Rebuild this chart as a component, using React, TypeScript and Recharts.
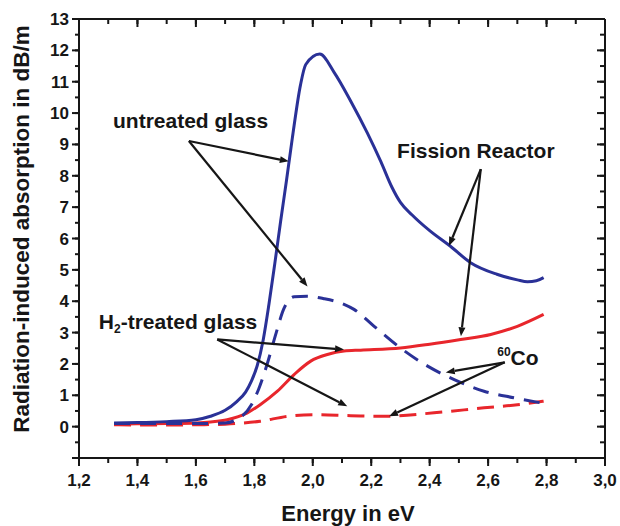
import { LineChart, Line, XAxis, YAxis, ReferenceLine, ReferenceDot } from 'recharts';

// Fission reactor, untreated glass (blue solid)
const fissionUntreatedE = [1.32, 1.4, 1.5, 1.6, 1.65, 1.7, 1.74, 1.77, 1.79, 1.81, 1.83, 1.85, 1.87, 1.89, 1.91, 1.93, 1.958, 1.976, 2.024, 2.073, 2.13, 2.187, 2.233, 2.27, 2.3, 2.34, 2.4, 2.47, 2.54, 2.63, 2.7, 2.735, 2.765, 2.79];
const fissionUntreatedV = [0.12, 0.13, 0.16, 0.22, 0.33, 0.52, 0.8, 1.1, 1.45, 1.95, 2.75, 3.9, 5.2, 6.55, 7.85, 9.2, 10.9, 11.55, 11.88, 11.3, 10.38, 9.36, 8.45, 7.65, 7.15, 6.75, 6.25, 5.76, 5.23, 4.86, 4.68, 4.62, 4.65, 4.75];

// 60Co, untreated glass (blue dashed)
const cobaltUntreatedE = [1.32, 1.4, 1.5, 1.6, 1.7, 1.76, 1.79, 1.815, 1.845, 1.875, 1.9, 1.936, 1.98, 2.038, 2.107, 2.141, 2.21, 2.3, 2.393, 2.484, 2.586, 2.689, 2.78];
const cobaltUntreatedV = [0.1, 0.1, 0.1, 0.1, 0.12, 0.35, 0.7, 1.2, 2.03, 3.0, 3.74, 4.14, 4.16, 4.08, 3.9, 3.74, 3.2, 2.51, 1.93, 1.5, 1.13, 0.92, 0.76];

// Fission reactor, H2-treated glass (red solid)
const fissionH2E = [1.32, 1.4, 1.5, 1.6, 1.65, 1.707, 1.776, 1.82, 1.879, 1.936, 1.993, 2.05, 2.107, 2.164, 2.3, 2.4, 2.506, 2.609, 2.7, 2.79];
const fissionH2V = [0.08, 0.09, 0.1, 0.12, 0.15, 0.22, 0.44, 0.7, 1.13, 1.66, 2.09, 2.3, 2.41, 2.44, 2.51, 2.63, 2.78, 2.94, 3.2, 3.58];

// 60Co, H2-treated glass (red dashed)
const cobaltH2E = [1.32, 1.4, 1.5, 1.6, 1.7, 1.74, 1.82, 1.913, 2.004, 2.13, 2.244, 2.415, 2.586, 2.7, 2.79];
const cobaltH2V = [0.06, 0.05, 0.05, 0.06, 0.08, 0.1, 0.17, 0.33, 0.38, 0.35, 0.33, 0.44, 0.6, 0.7, 0.81];

const xTicks = [1.2, 1.3, 1.4, 1.5, 1.6, 1.7, 1.8, 1.9, 2.0, 2.1, 2.2, 2.3, 2.4, 2.5, 2.6, 2.7, 2.8, 2.9, 3.0];
const xLabels = ['1,2', '', '1,4', '', '1,6', '', '1,8', '', '2,0', '', '2,2', '', '2,4', '', '2,6', '', '2,8', '', '3,0'];
const yTicks = [-1, -0.5, 0, 0.5, 1, 1.5, 2, 2.5, 3, 3.5, 4, 4.5, 5, 5.5, 6, 6.5, 7, 7.5, 8, 8.5, 9, 9.5, 10, 10.5, 11, 11.5, 12, 12.5, 13];
const yLabels = ['', '', '0', '', '1', '', '2', '', '3', '', '4', '', '5', '', '6', '', '7', '', '8', '', '9', '', '10', '', '11', '', '12', '', '13'];

// annotation arrows: [fromE, fromV, toE, toV]
const arrows = [
  [1.576, 9.11, 1.918, 8.46],
  [1.576, 9.11, 1.982, 4.47],
  [2.575, 8.21, 2.466, 5.76],
  [2.575, 8.21, 2.507, 2.88],
  [1.673, 2.78, 2.107, 2.46],
  [1.673, 2.78, 2.118, 0.65],
  [2.657, 2.05, 2.455, 1.73],
  [2.657, 2.05, 2.261, 0.33],
];

const toRows = (e: number[], v: number[]) => e.map((x, i) => ({ e: x, v: v[i] }));

const BLUE = '#2a3197';
const RED = '#e8262c';
const INK = '#161616';
const FONT = '"Liberation Sans", Arial, sans-serif';

const tickText = { fontFamily: FONT, fontWeight: 700, fontSize: 17, fill: INK };
const axisLine = { stroke: INK, strokeWidth: 2 };
const tickLine = { stroke: INK, strokeWidth: 2 };

const isMajorX = (i: number) => xLabels[i] !== '';
const isMajorY = (i: number) => Number.isInteger(yTicks[i]);

// native tick lines are the short (minor) length; majors get an extra path
function BottomTick(p: any) {
  const major = isMajorX(p.index);
  return (
    <g>
      {major && <path d={`M${p.x},${p.y - 5}V${p.y + 3}`} stroke={INK} strokeWidth={2} fill="none" />}
      {major && (
        <text x={p.x} y={p.y + 23} textAnchor="middle" {...tickText}>
          {xLabels[p.index]}
        </text>
      )}
    </g>
  );
}

function TopTick(p: any) {
  const major = isMajorX(p.index);
  return <g>{major && <path d={`M${p.x},${p.y - 5}V${p.y + 3}`} stroke={INK} strokeWidth={2} fill="none" />}</g>;
}

function LeftTick(p: any) {
  const major = isMajorY(p.index);
  return (
    <g>
      {major && <path d={`M${p.x - 3},${p.y}H${p.x + 4}`} stroke={INK} strokeWidth={2} fill="none" />}
      {yLabels[p.index] && (
        <text x={p.x - 6} y={p.y + 6} textAnchor="end" {...tickText}>
          {yLabels[p.index]}
        </text>
      )}
    </g>
  );
}

function RightTick(p: any) {
  const major = isMajorY(p.index);
  return <g>{major && <path d={`M${p.x - 3},${p.y}H${p.x + 5}`} stroke={INK} strokeWidth={2} fill="none" />}</g>;
}

function arrowShape(p: any) {
  const { x1, y1, x2, y2 } = p;
  const a = Math.atan2(y2 - y1, x2 - x1);
  const L = 9;
  const W = 3.5;
  const bx = x2 - L * Math.cos(a);
  const by = y2 - L * Math.sin(a);
  const pts = `${x2},${y2} ${bx - W * Math.sin(a)},${by + W * Math.cos(a)} ${bx + W * Math.sin(a)},${by - W * Math.cos(a)}`;
  return (
    <g>
      <line x1={x1} y1={y1} x2={bx} y2={by} stroke={INK} strokeWidth={2.2} />
      <polygon points={pts} fill={INK} />
    </g>
  );
}

const noteStyle = { fontFamily: FONT, fontWeight: 700, fontSize: 21, fill: INK };

export default function App() {
  return (
    <div style={{ position: 'absolute', left: 0, top: 0, background: '#fff' }}>
      <LineChart width={620} height={526} margin={{ top: 19, right: 15, bottom: 0, left: 0 }}>
        <XAxis
          dataKey="e"
          type="number"
          domain={[1.2, 3.0]}
          ticks={xTicks}
          interval={0}
          allowDataOverflow
          height={68}
          tickSize={5}
          tickMargin={0}
          tickLine={tickLine}
          tick={BottomTick}
          axisLine={axisLine}
          label={() => (
            <text x={348} y={521} textAnchor="middle" fontFamily={FONT} fontWeight={700} fontSize={22} fill={INK}>
              Energy in eV
            </text>
          )}
        />
        <XAxis
          xAxisId="top"
          orientation="top"
          mirror
          dataKey="e"
          type="number"
          domain={[1.2, 3.0]}
          ticks={xTicks}
          interval={0}
          allowDataOverflow
          height={1}
          tickSize={5}
          tickMargin={0}
          tickLine={tickLine}
          tick={TopTick}
          axisLine={axisLine}
        />
        <YAxis
          type="number"
          domain={[-1, 13]}
          ticks={yTicks}
          interval={0}
          allowDataOverflow
          width={79}
          tickSize={4}
          tickMargin={0}
          tickLine={tickLine}
          tick={LeftTick}
          axisLine={axisLine}
          label={() => (
            <text
              transform="translate(29,229) rotate(-90)"
              textAnchor="middle"
              fontFamily={FONT}
              fontWeight={700}
              fontSize={22.5}
              fill={INK}
            >
              Radiation-induced absorption in dB/m
            </text>
          )}
        />
        <YAxis
          yAxisId="right"
          orientation="right"
          mirror
          type="number"
          domain={[-1, 13]}
          ticks={yTicks}
          interval={0}
          allowDataOverflow
          width={1}
          tickSize={5}
          tickMargin={0}
          tickLine={tickLine}
          tick={RightTick}
          axisLine={axisLine}
        />

        <Line data={toRows(cobaltH2E, cobaltH2V)} dataKey="v" type="monotone" stroke={RED} strokeWidth={3} strokeDasharray="17 9" dot={false} activeDot={false} isAnimationActive={false} />
        <Line data={toRows(fissionH2E, fissionH2V)} dataKey="v" type="monotone" stroke={RED} strokeWidth={3} dot={false} activeDot={false} isAnimationActive={false} />
        <Line data={toRows(cobaltUntreatedE, cobaltUntreatedV)} dataKey="v" type="monotone" stroke={BLUE} strokeWidth={3} strokeDasharray="16 10" dot={false} activeDot={false} isAnimationActive={false} />
        <Line data={toRows(fissionUntreatedE, fissionUntreatedV)} dataKey="v" type="monotone" stroke={BLUE} strokeWidth={3} dot={false} activeDot={false} isAnimationActive={false} />

        {arrows.map((a, i) => (
          <ReferenceLine
            key={i}
            segment={[{ x: a[0], y: a[1] }, { x: a[2], y: a[3] }]}
            stroke={INK}
            ifOverflow="visible"
            shape={arrowShape}
          />
        ))}

        <ReferenceDot
          x={1.582}
          y={9.74}
          r={0}
          ifOverflow="visible"
          shape={(p: any) => (
            <text x={p.cx} y={p.cy + 7} textAnchor="middle" {...noteStyle}>untreated glass</text>
          )}
        />
        <ReferenceDot
          x={2.558}
          y={8.79}
          r={0}
          ifOverflow="visible"
          shape={(p: any) => (
            <text x={p.cx} y={p.cy + 7} textAnchor="middle" {...noteStyle}>Fission Reactor</text>
          )}
        />
        <ReferenceDot
          x={1.539}
          y={3.35}
          r={0}
          ifOverflow="visible"
          shape={(p: any) => (
            <text x={p.cx} y={p.cy + 7} textAnchor="middle" {...noteStyle}>
              H<tspan fontSize={12} dy={4}>2</tspan><tspan dy={-4}>-treated glass</tspan>
            </text>
          )}
        />
        <ReferenceDot
          x={2.702}
          y={2.2}
          r={0}
          ifOverflow="visible"
          shape={(p: any) => (
            <text x={p.cx} y={p.cy + 7} textAnchor="middle" {...noteStyle}>
              <tspan fontSize={12} dy={-9}>60</tspan><tspan dy={9}>Co</tspan>
            </text>
          )}
        />
      </LineChart>
    </div>
  );
}
